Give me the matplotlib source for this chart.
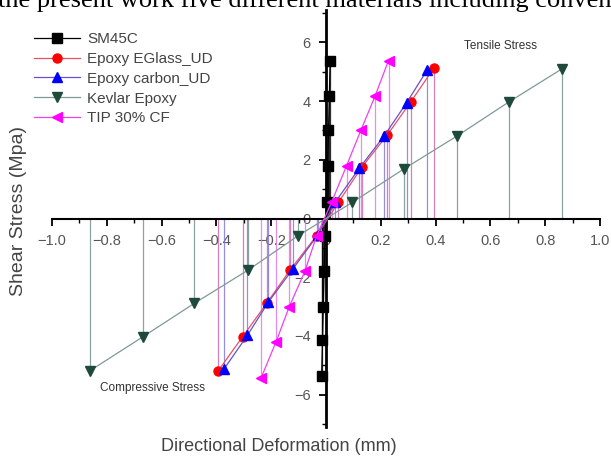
import numpy as np
import matplotlib.pyplot as plt
from matplotlib.ticker import MultipleLocator

# данные
sm45c_x = [-0.016, -0.013, -0.010, -0.007, -0.003, 0.003, 0.006, 0.009, 0.012, 0.015]
sm45c_y = [-5.36, -4.15, -3.02, -1.79, -0.58, 0.55, 1.80, 3.00, 4.17, 5.38]

eglass_x = [-0.393, -0.304, -0.216, -0.131, -0.034, 0.045, 0.130, 0.224, 0.309, 0.394]
eglass_y = [-5.18, -4.02, -2.88, -1.75, -0.58, 0.55, 1.74, 2.85, 3.97, 5.13]

carbon_x = [-0.372, -0.287, -0.210, -0.122, -0.030, 0.033, 0.122, 0.212, 0.294, 0.370]
carbon_y = [-5.12, -3.98, -2.84, -1.73, -0.56, 0.55, 1.72, 2.81, 3.94, 5.07]

kevlar_x = [-0.861, -0.667, -0.481, -0.285, -0.101, 0.096, 0.286, 0.478, 0.669, 0.860]
kevlar_y = [-5.18, -4.02, -2.89, -1.76, -0.58, 0.55, 1.70, 2.81, 3.98, 5.09]

tip_x = [-0.237, -0.182, -0.134, -0.077, -0.034, 0.020, 0.075, 0.127, 0.179, 0.228]
tip_y = [-5.43, -4.19, -3.00, -1.79, -0.58, 0.55, 1.80, 3.00, 4.17, 5.38]

series = [
    ("SM45C", sm45c_x, sm45c_y, 's', 'black', 'black', 'black'),
    ("Epoxy EGlass_UD", eglass_x, eglass_y, 'o', 'red', '#e8506a', '#d060a0'),
    ("Epoxy carbon_UD", carbon_x, carbon_y, '^', 'blue', '#6a50c8', '#8070d8'),
    ("Kevlar Epoxy", kevlar_x, kevlar_y, 'v', '#1e4a3c', '#7f9a96', '#6f8c88'),
    ("TIP 30% CF", tip_x, tip_y, '<', '#ff00ff', '#f040f0', '#e070e8'),
]

plt.rcParams['font.family'] = ['Liberation Sans', 'DejaVu Sans']

fig = plt.figure(figsize=(6.11, 4.57), dpi=100)
ax = fig.add_axes([0.0851, 0.0656, 0.897, 0.9125])

for name, xs, ys, mk, mc, lc, dc in series:
    ax.vlines(xs, 0, ys, color=dc, lw=0.9, alpha=0.8, zorder=2)  # drop lines
    ax.plot(xs, ys, color=lc, lw=0.9, marker=mk, ms=6.5, mfc=mc, mec=mc,
            label=name, zorder=3)

ax.set_xlim(-1.0, 1.0)
ax.set_ylim(-7.1, 7.1)

# оси через ноль
ax.spines['left'].set_position(('data', 0))
ax.spines['bottom'].set_position(('data', 0))
ax.spines['right'].set_visible(False)
ax.spines['top'].set_visible(False)
ax.spines['left'].set_linewidth(2.0)
ax.spines['bottom'].set_linewidth(1.5)

ax.xaxis.set_minor_locator(MultipleLocator(0.1))
ax.yaxis.set_minor_locator(MultipleLocator(1))
ax.set_xticks(np.arange(-1.0, 1.01, 0.2))
ax.set_xticklabels(['\u22121.0', '\u22120.8', '\u22120.6', '\u22120.4', '\u22120.2',
                    '0', '0.2', '0.4', '0.6', '0.8', '1.0'])
ax.set_yticks([-6, -4, -2, 0, 2, 4, 6])
ax.set_yticklabels(['\u22126', '\u22124', '\u22122', '0', '2', '4', '6'])
ax.tick_params(which='major', direction='out', length=5, width=1.3,
               labelsize=10.5, labelcolor='#555555', pad=6)
ax.tick_params(which='minor', direction='out', length=3, width=1.0)

ax.text(0.635, 5.86, "Tensile Stress", fontsize=8.5, color='#333333',
        ha='center', va='center')
ax.text(-0.635, -5.76, "Compressive Stress", fontsize=8.5, color='#333333',
        ha='center', va='center')

ax.legend(loc='upper left', bbox_to_anchor=(-0.058, 0.98), frameon=False,
          fontsize=11, labelcolor='#444444', handlelength=3.0,
          handletextpad=0.5, labelspacing=0.38, borderaxespad=0.5)

fig.text(0.031, 1 - 211 / 457, "Shear Stress (Mpa)", rotation=90, fontsize=14,
         color='#444444', ha='center', va='center')
fig.text(0.457, 0.024, "Directional Deformation (mm)", fontsize=13,
         color='#444444', ha='center', va='center')

# обрезанная строка текста сверху
fig.text(-0.004, 1 - 7 / 457, "the present work five different materials including conven",
         family='Liberation Serif', fontsize=19, color='black', ha='left',
         va='baseline')

fig.savefig("out.png", dpi=100)
